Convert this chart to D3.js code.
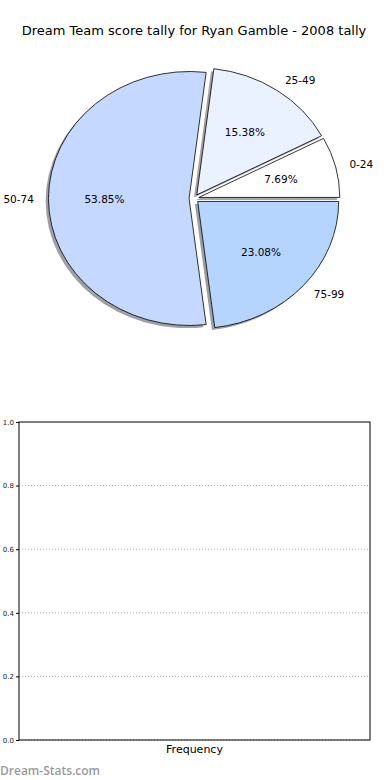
<!DOCTYPE html>
<html>
<head>
<meta charset="utf-8">
<script src="https://cdn.jsdelivr.net/npm/d3@7"></script>
<style>
  body { margin: 0; background: #fff; }
  svg { display: block; font-family: "DejaVu Sans", sans-serif; }
</style>
</head>
<body>
<svg id="chart" width="390" height="780"></svg>
<script>
// pie data (counts per score band)
const bands = ["0-24", "25-49", "50-74", "75-99"];
const counts = [1, 2, 7, 3];
const sliceColors = ["#ffffff", "#eaf1ff", "#c5d8ff", "#b5d5ff"];

// empty frequency chart below
const yTicks = [0, 0.2, 0.4, 0.6, 0.8, 1.0];
const xLabel = "Frequency";

const svg = d3.select("#chart");

svg.append("text")
    .attr("x", 194)
    .attr("y", 35)
    .attr("text-anchor", "middle")
    .attr("font-size", 13)
    .text("Dream Team score tally for Ryan Gamble - 2008 tally");

// pie geometry (matplotlib style: start east, counter-clockwise, ellipse)
const cx = 194, cy = 198.5;
const rx = 141, ry = 127;
const explode = 0.035;

const pie = d3.pie().sort(null).startAngle(0).endAngle(2 * Math.PI);
const arcs = pie(counts);
const total = d3.sum(counts);

const arc = d3.arc().innerRadius(0).outerRadius(1);

// convert math angle (ccw from east) into d3 arc angles
function d3arc(a) {
    return arc({startAngle: Math.PI / 2 - a.endAngle, endAngle: Math.PI / 2 - a.startAngle});
}

const pieG = svg.append("g");

arcs.forEach((a, i) => {
    const mid = (a.startAngle + a.endAngle) / 2;
    const ox = cx + explode * rx * Math.cos(mid);
    const oy = cy - explode * ry * Math.sin(mid);

    // shadow
    const c = d3.rgb(sliceColors[i]);
    pieG.append("path")
        .attr("d", d3arc(a))
        .attr("transform", `translate(${ox - 0.02 * rx},${oy + 0.02 * ry}) scale(${rx},${ry})`)
        .attr("fill", d3.rgb(c.r * 0.3, c.g * 0.3, c.b * 0.3))
        .attr("fill-opacity", 0.5);
});

arcs.forEach((a, i) => {
    const mid = (a.startAngle + a.endAngle) / 2;
    const ox = cx + explode * rx * Math.cos(mid);
    const oy = cy - explode * ry * Math.sin(mid);

    pieG.append("path")
        .attr("d", d3arc(a))
        .attr("transform", `translate(${ox},${oy}) scale(${rx},${ry})`)
        .attr("fill", sliceColors[i])
        .attr("stroke", "#000")
        .attr("stroke-width", 0.8)
        .attr("vector-effect", "non-scaling-stroke");

    // percent label at 0.6 r
    pieG.append("text")
        .attr("x", ox + 0.6 * rx * Math.cos(mid))
        .attr("y", oy - 0.6 * ry * Math.sin(mid))
        .attr("text-anchor", "middle")
        .attr("dominant-baseline", "central")
        .attr("font-size", 10.5)
        .text((counts[i] / total * 100).toFixed(2) + "%");

    // band label at 1.1 r
    const cosm = Math.cos(mid);
    pieG.append("text")
        .attr("x", ox + 1.1 * rx * cosm)
        .attr("y", oy - 1.1 * ry * Math.sin(mid))
        .attr("text-anchor", cosm > 0 ? "start" : "end")
        .attr("dominant-baseline", "central")
        .attr("font-size", 10.5)
        .text(bands[i]);
});

// bottom axes
const plotL = 19, plotR = 370, plotT = 422, plotB = 740;
const y = d3.scaleLinear().domain([0, 1]).range([plotB, plotT]);

const grid = svg.append("g");
yTicks.slice(0, -1).forEach(t => {
    grid.append("line")
        .attr("x1", plotL).attr("x2", plotR)
        .attr("y1", y(t)).attr("y2", y(t))
        .attr("stroke", "#aaa")
        .attr("stroke-width", 1)
        .attr("stroke-dasharray", "1,2");
});

svg.append("rect")
    .attr("x", plotL).attr("y", plotT)
    .attr("width", plotR - plotL).attr("height", plotB - plotT)
    .attr("fill", "none")
    .attr("stroke", "#000")
    .attr("stroke-width", 1);

const yAxis = svg.append("g")
    .attr("transform", `translate(${plotL},0)`)
    .call(d3.axisLeft(y).tickValues(yTicks).tickFormat(d3.format(".1f")).tickSize(3).tickPadding(2));
yAxis.select(".domain").remove();
yAxis.selectAll("text").attr("font-size", 7).attr("font-family", "DejaVu Sans").attr("fill", "#222");

svg.append("text")
    .attr("x", (plotL + plotR) / 2)
    .attr("y", 753)
    .attr("text-anchor", "middle")
    .attr("font-size", 11)
    .text(xLabel);

// watermark
svg.append("text")
    .attr("x", 0)
    .attr("y", 775)
    .attr("font-family", "Open Sans")
    .attr("font-size", 12)
    .attr("font-weight", 600)
    .attr("fill", "#999")
    .text("Dream-Stats.com");
</script>
</body>
</html>
